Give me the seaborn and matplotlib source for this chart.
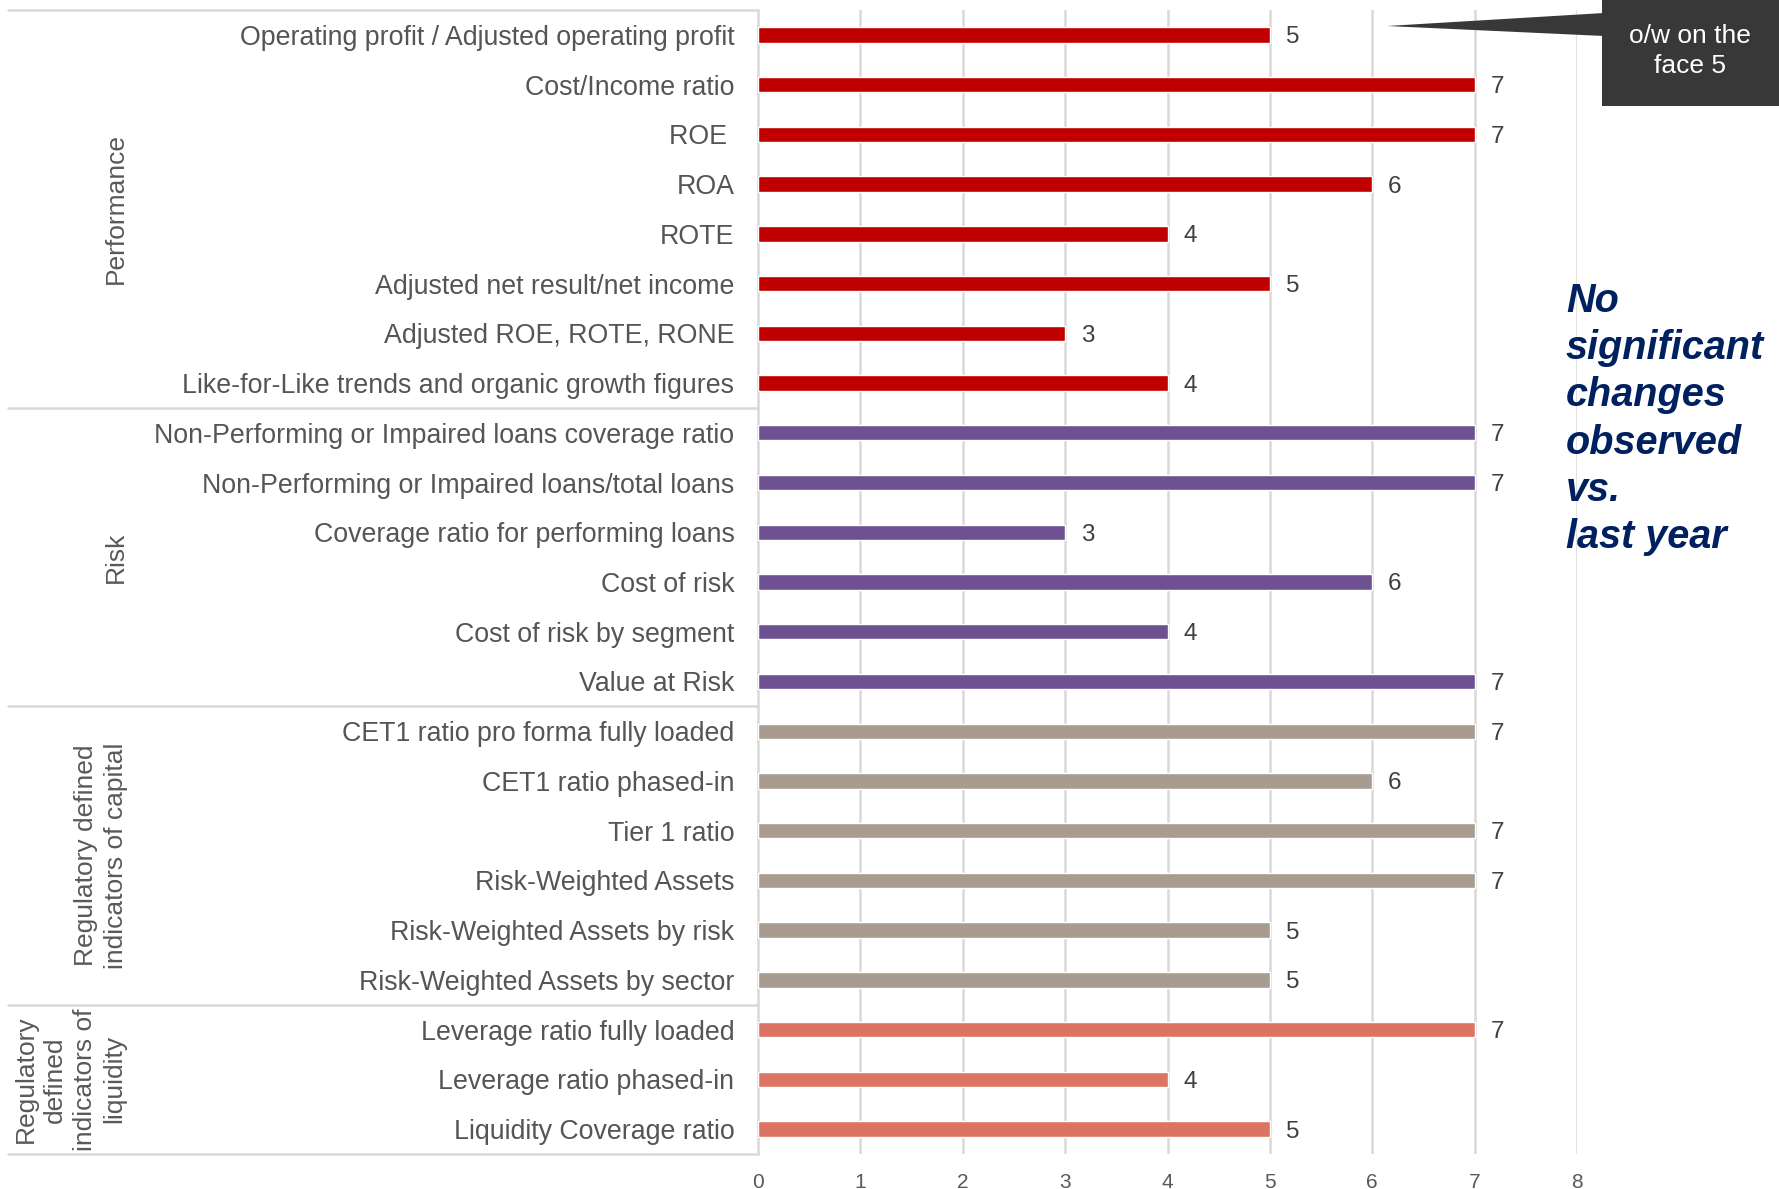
import matplotlib
matplotlib.use("Agg")
import matplotlib.pyplot as plt
import matplotlib.transforms as mtransforms
from matplotlib.patches import Polygon, Rectangle
import seaborn as sns
import pandas as pd

# ---- data -------------------------------------------------------------
metrics = [
    "Operating profit / Adjusted operating profit",
    "Cost/Income ratio",
    "ROE ",
    "ROA",
    "ROTE",
    "Adjusted net result/net income",
    "Adjusted ROE, ROTE, RONE",
    "Like-for-Like trends and organic growth figures",
    "Non-Performing or Impaired loans coverage ratio",
    "Non-Performing or Impaired loans/total loans",
    "Coverage ratio for performing loans",
    "Cost of risk",
    "Cost of risk by segment",
    "Value at Risk",
    "CET1 ratio pro forma fully loaded",
    "CET1 ratio phased-in",
    "Tier 1 ratio",
    "Risk-Weighted Assets",
    "Risk-Weighted Assets by risk",
    "Risk-Weighted Assets by sector",
    "Leverage ratio fully loaded",
    "Leverage ratio phased-in",
    "Liquidity Coverage ratio",
]
counts = [5, 7, 7, 6, 4, 5, 3, 4,
          7, 7, 3, 6, 4, 7,
          7, 6, 7, 7, 5, 5,
          7, 4, 5]
group_names = ["Performance", "Risk", "Capital", "Liquidity"]
group_sizes = [8, 6, 6, 3]
group_labels = ["Performance",
                "Risk",
                "Regulatory defined\nindicators of capital",
                "Regulatory\ndefined\nindicators of\nliquidity"]
group_colors = ["#C00000", "#6E5190", "#A89B8F", "#DC7464"]
x_ticks = [0, 1, 2, 3, 4, 5, 6, 7, 8]
callout_text = "o/w on the\nface 5"
side_note = "No\nsignificant\nchanges\nobserved\nvs.\nlast year"

groups = [g for g, n in zip(group_names, group_sizes) for _ in range(n)]
df = pd.DataFrame({"metric": metrics, "count": counts, "group": groups})

# ---- figure -----------------------------------------------------------
W, H = 1779, 1189
sns.set_theme(style="white")
plt.rcParams["font.family"] = ["Liberation Sans", "DejaVu Sans"]

fig = plt.figure(figsize=(W / 100, H / 100), dpi=100)
ax_left, ax_right, ax_top, ax_bottom = 758, 1577, 10, 1154
ax = fig.add_axes([ax_left / W, 1 - ax_bottom / H,
                   (ax_right - ax_left) / W, (ax_bottom - ax_top) / H])

sns.barplot(data=df, y="metric", x="count", hue="group",
            hue_order=group_names, palette=group_colors,
            dodge=False, width=0.31, orient="h", legend=False,
            saturation=1, ax=ax, zorder=3)

ax.set_xlim(0, 8)
ax.set_ylim(len(metrics) - 0.5, -0.5)
ax.set_xticks(x_ticks)
ax.set_xticklabels([str(t) for t in x_ticks])
ax.set_xlabel("")
ax.set_ylabel("")

# vertical gridlines
for t in x_ticks[1:]:
    ax.axvline(t, color="#D9D9D9", lw=1.8, zorder=1)

for s in ["top", "right", "bottom"]:
    ax.spines[s].set_visible(False)
ax.spines["left"].set_color("#D9D9D9")
ax.spines["left"].set_linewidth(1.8)

ax.tick_params(axis="x", length=0, pad=13.5, labelsize=15, labelcolor="#595959")
ax.tick_params(axis="y", length=0, pad=17, labelsize=19.3, labelcolor="#555555")

# value labels at the end of each bar
for cont in ax.containers:
    for bar in cont:
        w = bar.get_width()
        if w != w:  # skip empty hue slots
            continue
        yc = bar.get_y() + bar.get_height() / 2
        ax.annotate(f"{w:g}", xy=(w, yc), xytext=(11.5, -1.8),
                    textcoords="offset points", ha="left", va="center",
                    fontsize=17.5, color="#404040")

# left table: group separators and rotated group names
blend = mtransforms.blended_transform_factory(fig.transFigure, ax.transData)
bounds = [-0.5]
for n in group_sizes:
    bounds.append(bounds[-1] + n)
for b in bounds:
    ax.plot([8 / W, ax_left / W], [b, b], transform=blend, color="#D9D9D9",
            lw=1.8, clip_on=False, zorder=2)

label_x = [116, 116, 101, 70]
for i, (lab, xpix) in enumerate(zip(group_labels, label_x)):
    yc = (bounds[i] + bounds[i + 1]) / 2
    ax.text(xpix / W, yc, lab, transform=blend, rotation=90,
            ha="center", va="center", multialignment="center",
            rotation_mode="anchor", fontsize=19, color="#595959",
            linespacing=1.3)

# callout box with pointer
fig.patches.append(Rectangle((1602 / W, 1 - 106 / H), (W - 1602) / W, 106 / H,
                             transform=fig.transFigure, facecolor="#383838",
                             edgecolor="none", zorder=5))
fig.patches.append(Polygon([(1387 / W, 1 - 26 / H), (1604 / W, 1 - 13 / H),
                            (1604 / W, 1 - 36 / H)],
                           closed=True, transform=fig.transFigure,
                           facecolor="#383838", edgecolor="none", zorder=5))
fig.text(1690 / W, 1 - 51 / H, callout_text, ha="center", va="center",
         color="white", fontsize=19, linespacing=1.3, zorder=6)

# side note
fig.text(1566 / W, 1 - 419 / H, side_note, ha="left", va="center",
         color="#002060", fontsize=28.5, fontweight="bold", fontstyle="italic",
         linespacing=1.31, zorder=6)

fig.savefig("out.png", dpi=100)
